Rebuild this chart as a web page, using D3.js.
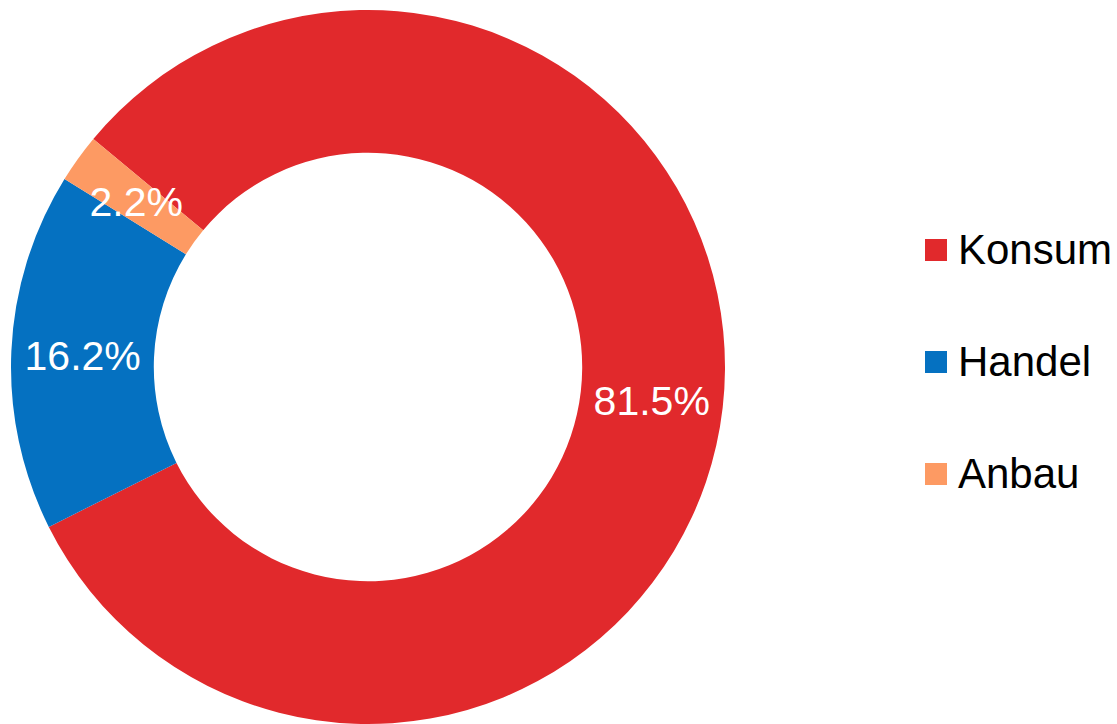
<!DOCTYPE html>
<html lang="de">
  <head>
    <meta charset="UTF-8" />
    <title>Donut</title>
    <style>
      body { margin: 0; background: #fff; }
      text { font-family: "Liberation Sans", Arial, sans-serif; }
    </style>
  </head>
  <body>
    <svg width="1117" height="724"></svg>
    <script src="https://d3js.org/d3.v7.min.js"></script>
    <script>
      const categories = ["Konsum", "Handel", "Anbau"];
      const values = [81.5, 16.2, 2.2];
      const colors = ["#e1292c", "#0571c1", "#fd9a63"];

      const svg = d3.select("svg");
      const cx = 368, cy = 367, outer = 357, inner = outer * 0.6;
      const start = (-50.3 * Math.PI) / 180;

      const pie = d3.pie().sort(null).startAngle(start).endAngle(start + 2 * Math.PI);
      const arcs = pie(values);
      const arc = d3.arc().innerRadius(inner).outerRadius(outer);

      const g = svg.append("g").attr("transform", `translate(${cx},${cy})`);

      g.selectAll("path")
        .data(arcs)
        .enter()
        .append("path")
        .attr("d", arc)
        .attr("fill", (d, i) => colors[i]);

      g.selectAll("text")
        .data(arcs)
        .enter()
        .append("text")
        .attr("transform", (d) => `translate(${arc.centroid(d)})`)
        .attr("text-anchor", "middle")
        .attr("dy", "0.38em")
        .attr("fill", "#fff")
        .attr("font-size", 41)
        .text((d) => d.data.toFixed(1) + "%");

      const legend = svg
        .append("g")
        .selectAll("g")
        .data(categories)
        .enter()
        .append("g")
        .attr("transform", (d, i) => `translate(925,${239 + i * 112})`);

      legend
        .append("rect")
        .attr("width", 22)
        .attr("height", 22)
        .attr("fill", (d, i) => colors[i]);

      legend
        .append("text")
        .attr("x", 33)
        .attr("y", 25)
        .attr("font-size", 42)
        .attr("fill", "#000")
        .text((d) => d);
    </script>
  </body>
</html>
